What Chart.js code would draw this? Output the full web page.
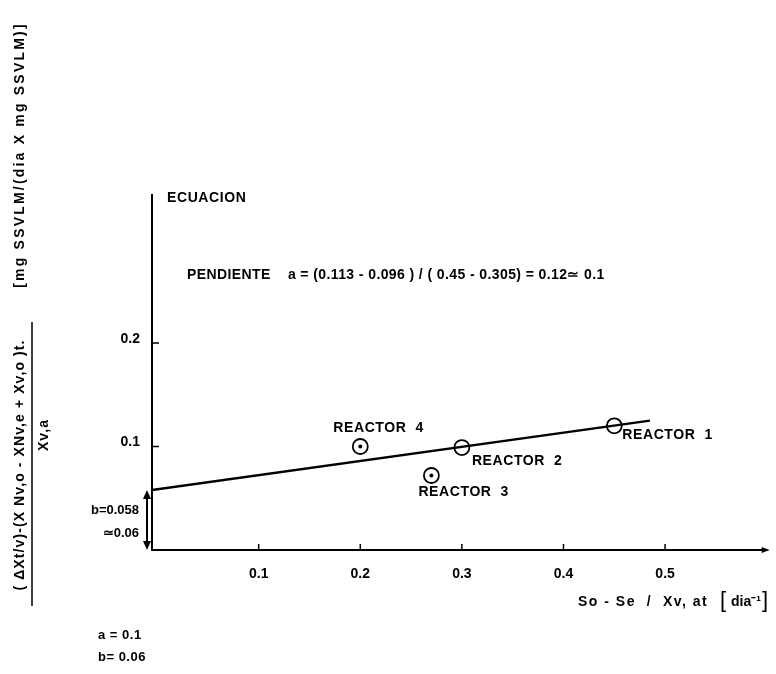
<!DOCTYPE html>
<html>
<head>
<meta charset="utf-8">
<script src="https://cdn.jsdelivr.net/npm/chart.js@4"></script>
<style>
  html, body { margin: 0; padding: 0; background: #fff; }
  canvas { display: block; }
</style>
</head>
<body>
<canvas id="reactorChart" width="776" height="674"></canvas>
<script>
// valores
const reactorNames = ['REACTOR  1', 'REACTOR  2', 'REACTOR  3', 'REACTOR  4'];
const reactorX = [0.45, 0.30, 0.27, 0.20];
const reactorY = [0.12, 0.099, 0.072, 0.10];
const centerDot = [false, false, true, true];
const lineX = [-0.005, 0.485];
const lineY = [0.058, 0.125];
const xTicks = [0.1, 0.2, 0.3, 0.4, 0.5];
const yTicks = [0.1, 0.2];

const FONT = '"Liberation Sans", Arial, sans-serif';

// posicion de cada etiqueta respecto a su punto
const labelOffsets = [[8, 9], [10, 14], [-13, 17], [-27, -18]];

const annotations = {
    id: 'annotations',
    afterDraw(chart) {
        const c = chart.ctx;
        const xs = chart.scales.x;
        const ys = chart.scales.y;
        const area = chart.chartArea;
        c.save();
        c.fillStyle = '#000';
        c.strokeStyle = '#000';

        // marcas hacia adentro
        c.lineWidth = 1.5;
        xTicks.forEach(v => {
            const px = xs.getPixelForValue(v);
            c.beginPath(); c.moveTo(px, area.bottom); c.lineTo(px, area.bottom - 6); c.stroke();
        });
        yTicks.forEach(v => {
            const py = ys.getPixelForValue(v);
            c.beginPath(); c.moveTo(area.left, py); c.lineTo(area.left + 7, py); c.stroke();
        });

        // flecha del eje x
        c.beginPath();
        c.moveTo(area.right + 3, area.bottom);
        c.lineTo(area.right - 5, area.bottom - 3);
        c.lineTo(area.right - 5, area.bottom + 3);
        c.closePath(); c.fill();

        // flecha doble de la ordenada al origen b
        const bx = area.left - 5;
        const y0 = ys.getPixelForValue(0);
        const yb = ys.getPixelForValue(lineY[0]);
        c.lineWidth = 2;
        c.beginPath(); c.moveTo(bx, yb + 6); c.lineTo(bx, y0 - 6); c.stroke();
        c.beginPath(); c.moveTo(bx, yb); c.lineTo(bx - 4, yb + 9); c.lineTo(bx + 4, yb + 9); c.closePath(); c.fill();
        c.beginPath(); c.moveTo(bx, y0); c.lineTo(bx - 4, y0 - 9); c.lineTo(bx + 4, y0 - 9); c.closePath(); c.fill();

        c.font = 'bold 13px ' + FONT;
        c.textAlign = 'right';
        c.textBaseline = 'middle';
        c.fillText('b=0.058', bx - 8, 510);
        c.fillText('\u22430.06', bx - 8, 533);

        // etiquetas de los reactores
        c.font = 'bold 14px ' + FONT;
        c.textAlign = 'left';
        c.letterSpacing = '0.6px';
        reactorNames.forEach((name, i) => {
            const px = xs.getPixelForValue(reactorX[i]);
            const py = ys.getPixelForValue(reactorY[i]);
            c.fillText(name, px + labelOffsets[i][0], py + labelOffsets[i][1]);
        });

        // ecuacion
        c.fillText('ECUACION', 167, 198);
        c.letterSpacing = '0.4px';
        c.fillText('PENDIENTE    a = (0.113 - 0.096 ) / ( 0.45 - 0.305) = 0.12\u2243 0.1', 187, 275);

        c.letterSpacing = '0.5px';
        c.font = 'bold 13px ' + FONT;
        c.fillText('a = 0.1', 98, 635);
        c.fillText('b= 0.06', 98, 657);

        // titulo eje x
        c.font = 'bold 14px ' + FONT;
        c.letterSpacing = '1.5px';
        c.fillText('So - Se  /  Xv, at', 578, 602);
        c.letterSpacing = '0px';
        c.font = '22px ' + FONT;
        c.fillText('[', 720, 601);
        c.fillText(']', 762, 601);
        c.font = 'bold 14px ' + FONT;
        c.fillText('dia\u207B\u00B9', 731, 602);

        // titulo eje y (rotado)
        c.font = 'bold 14px ' + FONT;
        c.textAlign = 'center';
        const rot = (text, x, y) => {
            c.save(); c.translate(x, y); c.rotate(-Math.PI / 2); c.fillText(text, 0, 0); c.restore();
        };
        c.letterSpacing = '1.1px';
        rot('( \u0394Xt/v)-(X Nv,o - XNv,e + Xv,o )t.', 20, 465);
        rot('Xv,a', 44, 435);
        c.letterSpacing = '2.2px';
        rot('[mg SSVLM/(dia X mg SSVLM)]', 20, 155);
        c.lineWidth = 1.5;
        c.beginPath(); c.moveTo(32, 322); c.lineTo(32, 606); c.stroke();

        c.restore();
    }
};

const ctx = document.getElementById('reactorChart').getContext('2d');
const chart = new Chart(ctx, {
    type: 'scatter',
    data: {
        datasets: [
            {
                label: 'Reactores',
                data: reactorX.map((x, i) => ({ x: x, y: reactorY[i] })),
                pointRadius: 7.5,
                pointBorderWidth: 1.8,
                pointBorderColor: '#000',
                pointBackgroundColor: 'rgba(0,0,0,0)',
            },
            {
                label: 'Centro',
                data: reactorX.map((x, i) => ({ x: x, y: reactorY[i] })).filter((p, i) => centerDot[i]),
                pointRadius: 2,
                pointBorderWidth: 0,
                pointBackgroundColor: '#000',
            },
            {
                type: 'line',
                label: 'Recta',
                data: lineX.map((x, i) => ({ x: x, y: lineY[i] })),
                borderColor: '#000',
                borderWidth: 2.5,
                pointRadius: 0,
                fill: false,
            },
        ],
    },
    options: {
        responsive: false,
        animation: false,
        layout: { padding: { top: 195, right: 4, left: 0, bottom: 0 } },
        plugins: { legend: { display: false }, tooltip: { enabled: false } },
        scales: {
            x: {
                type: 'linear',
                min: -0.005,
                max: 0.6,
                afterBuildTicks: s => { s.ticks = xTicks.map(v => ({ value: v })); },
                afterFit: s => { s.height = 124; },
                grid: { display: false, drawTicks: false },
                border: { display: true, color: '#000', width: 2 },
                ticks: {
                    padding: 16,
                    color: '#000',
                    font: { family: FONT, size: 14, weight: 'bold' },
                    callback: v => v.toFixed(1),
                },
            },
            y: {
                type: 'linear',
                min: 0,
                max: 0.343,
                afterBuildTicks: s => { s.ticks = yTicks.map(v => ({ value: v })); },
                afterFit: s => { s.width = 152; },
                grid: { display: false, drawTicks: false },
                border: { display: true, color: '#000', width: 2 },
                ticks: {
                    padding: 12,
                    labelOffset: -4,
                    color: '#000',
                    font: { family: FONT, size: 14, weight: 'bold' },
                    callback: v => v.toFixed(1),
                },
            },
        },
    },
    plugins: [annotations],
});
</script>
</body>
</html>
